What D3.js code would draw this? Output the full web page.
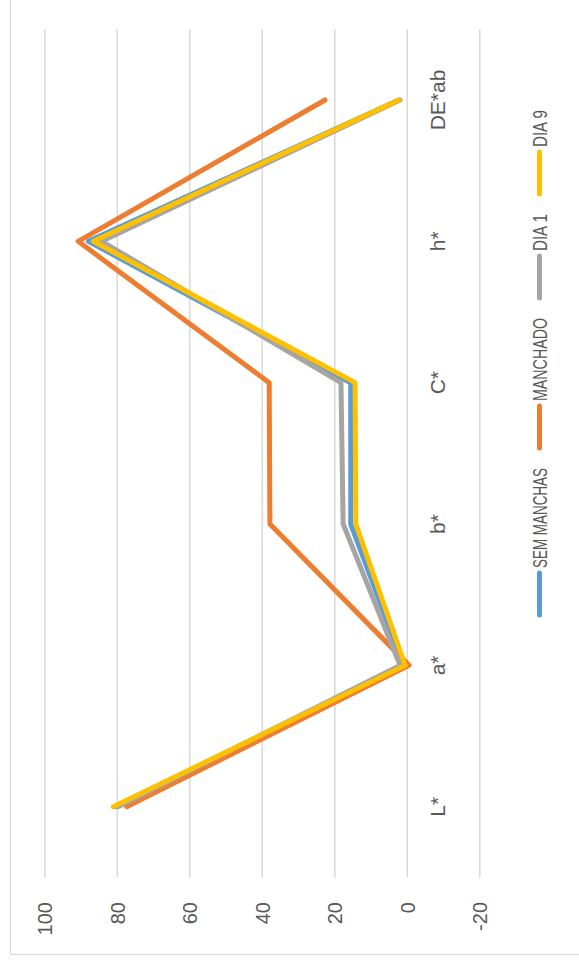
<!DOCTYPE html>
<html>
<head>
<meta charset="utf-8">
<script src="https://cdn.jsdelivr.net/npm/d3@7"></script>
<style>
  body { margin: 0; background: #fff; }
  text { font-family: "Liberation Sans", Arial, sans-serif; fill: #595959; }
</style>
</head>
<body>
<div id="chart"></div>
<script>
const categories = ['L*', 'a*', 'b*', 'C*', 'h*', 'DE*ab'];
const seriesNames = ['SEM MANCHAS', 'MANCHADO', 'DIA 1', 'DIA 9'];
const semManchas = [80.5, 1.0, 15.6, 15.6, 88.0, 2.3];
const manchado = [77.4, -0.5, 37.9, 38.1, 90.8, 22.7];
const dia1 = [79.8, 2.0, 17.7, 18.3, 84.3, 2.0];
const dia9 = [81.1, 0.6, 14.2, 14.4, 86.6, 2.3];
const tickValues = [-20, 0, 20, 40, 60, 80, 100];

const colors = ['#5B9BD5', '#ED7D31', '#A5A5A5', '#FFC000'];
const seriesValues = [semManchas, manchado, dia1, dia9];

// the chart is drawn upright and then turned a quarter left
const width = 963, height = 579;

const svg = d3.select('#chart')
    .append('svg')
    .attr('width', height)
    .attr('height', width);

const g = svg.append('g')
    .attr('transform', `translate(0, ${width}) rotate(-90)`);

g.append('rect')
    .attr('x', 8.5)
    .attr('y', 10.5)
    .attr('width', 1000)
    .attr('height', 620)
    .attr('fill', '#fff')
    .attr('stroke', '#d9d9d9')
    .attr('stroke-width', 1.2);

const x = d3.scalePoint()
    .domain(categories)
    .range([85.6, 933.7])
    .padding(0.5);

const y = d3.scaleLinear()
    .domain([-20, 100])
    .range([479.8, 44.8]);

// gridlines
g.selectAll('.grid')
    .data(tickValues)
    .enter()
    .append('line')
    .attr('class', 'grid')
    .attr('x1', 85.6)
    .attr('x2', 933.7)
    .attr('y1', d => y(d))
    .attr('y2', d => y(d))
    .attr('stroke', '#d9d9d9')
    .attr('stroke-width', 1.5);

// value labels
g.selectAll('.tick')
    .data(tickValues)
    .enter()
    .append('text')
    .attr('class', 'tick')
    .attr('x', 61)
    .attr('y', d => y(d))
    .attr('dy', '0.36em')
    .attr('text-anchor', 'end')
    .style('font-size', '20px')
    .text(d => d);

// category labels
g.selectAll('.cat')
    .data(categories)
    .enter()
    .append('text')
    .attr('class', 'cat')
    .attr('x', d => x(d))
    .attr('y', 445)
    .attr('text-anchor', 'middle')
    .style('font-size', '21px')
    .text(d => d);

const line = d3.line()
    .x((d, i) => x(categories[i]))
    .y(d => y(d));

g.selectAll('.series')
    .data(seriesValues)
    .enter()
    .append('path')
    .attr('class', 'series')
    .attr('d', line)
    .attr('fill', 'none')
    .attr('stroke', (d, i) => colors[i])
    .attr('stroke-width', 5)
    .attr('stroke-linecap', 'round')
    .attr('stroke-linejoin', 'round');

// legend
const legendWidths = [100, 83, 37, 37];
const legendY = 539.5;
let legendX = 348;

seriesNames.forEach((name, i) => {
  g.append('line')
      .attr('x1', legendX)
      .attr('x2', legendX + 42)
      .attr('y1', legendY)
      .attr('y2', legendY)
      .attr('stroke', colors[i])
      .attr('stroke-width', 5)
      .attr('stroke-linecap', 'round');

  g.append('text')
      .attr('x', legendX + 47)
      .attr('y', legendY + 7)
      .attr('textLength', legendWidths[i])
      .attr('lengthAdjust', 'spacingAndGlyphs')
      .style('font-size', '19.5px')
      .text(name);

  legendX += 42 + 5 + legendWidths[i] + 20;
});
</script>
</body>
</html>
